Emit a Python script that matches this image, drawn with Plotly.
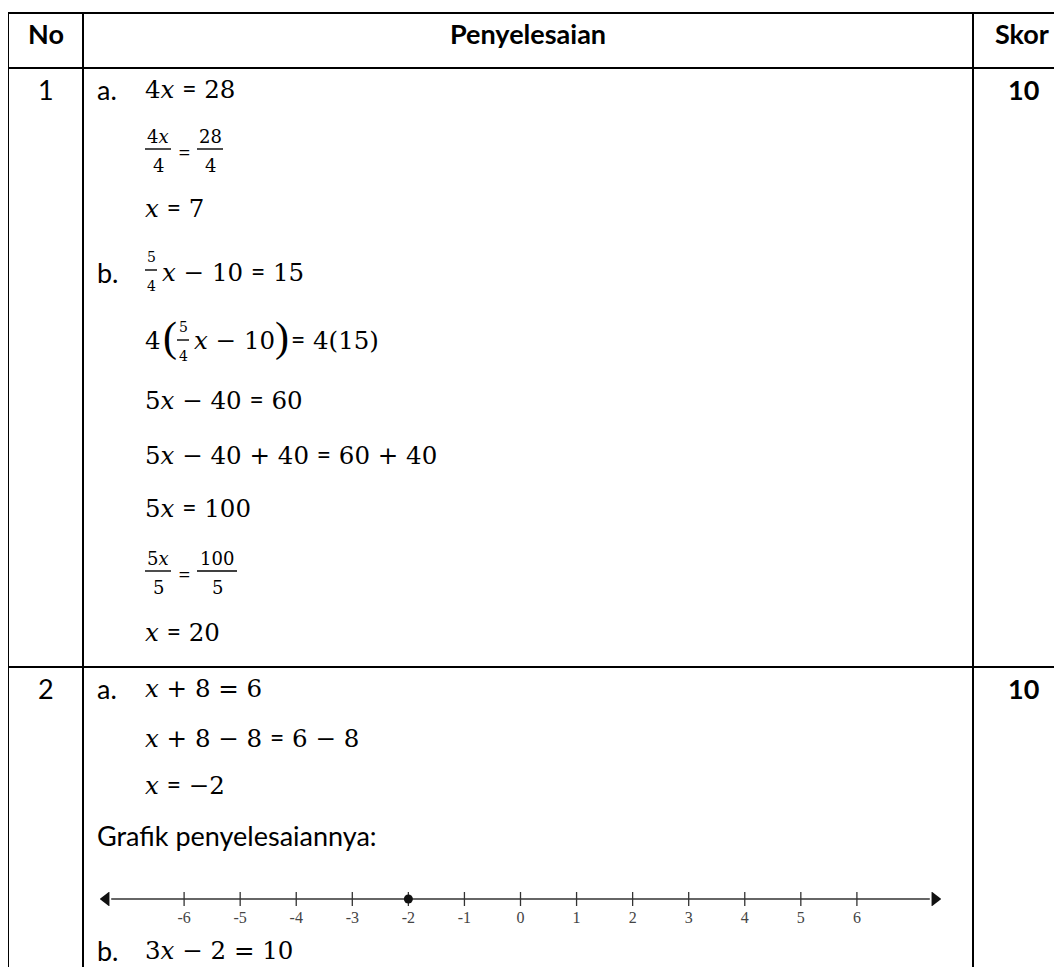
import plotly.graph_objects as go

# table content
headers = ["No", "Penyelesaian", "Skor"]
row_numbers = ["1", "2"]
scores = ["10", "10"]

EQ = "<span style='font-family:Lato'>=</span>"

# soal 1 (baris biasa, tanpa pecahan)
soal1_lines = [
    "<i>x</i> " + EQ + " 7",
    "5<i>x</i> − 40 " + EQ + " 60",
    "5<i>x</i> − 40 + 40 " + EQ + " 60 + 40",
    "5<i>x</i> " + EQ + " 100",
    "<i>x</i> " + EQ + " 20",
]
# soal 2
soal2_lines = [
    "<i>x</i> + 8 = 6",
    "<i>x</i> + 8 − 8 " + EQ + " 6 − 8",
    "<i>x</i> " + EQ + " −2",
]
grafik_label = "Grafik penyelesaiannya:"
soal2b = "3<i>x</i> − 2 = 10"

# garis bilangan
number_line_ticks = list(range(-6, 7))
number_line_labels = [str(v) for v in number_line_ticks]
solution = -2
line_ends = [-7.5, 7.5]

W, H = 1062, 967
OFF = 8  # default body margin of the page
BODY = "Lato"
MATH = "DejaVu Serif"
BODY_SIZE = 27
MATH_SIZE = 24.5
FRAC_SIZE = 18

annotations = []
shapes = []


def put(x, y, s, size=MATH_SIZE, family=MATH, anchor="left"):
    annotations.append(dict(x=x, y=y, xref="x", yref="y", text=s, showarrow=False,
                            xanchor=anchor, yanchor="middle",
                            font=dict(family=family, size=size, color="black")))


def hline(x0, x1, y, w=2):
    shapes.append(dict(type="line", xref="x", yref="y", x0=x0, x1=x1, y0=y, y1=y,
                       line=dict(color="black", width=w)))


def vline(x, y0, y1, w=2):
    shapes.append(dict(type="line", xref="x", yref="y", x0=x, x1=x, y0=y0, y1=y1,
                       line=dict(color="black", width=w)))


def frac(x0, x1, y, num, den, size=FRAC_SIZE):
    xc = (x0 + x1) / 2
    put(xc, y - 13, num, size=size, anchor="center")
    put(xc, y + 16, den, size=size, anchor="center")
    hline(x0, x1, y, w=1.4)


# table grid
hline(8, W + 10, 13)
hline(8, W + 10, 68)
hline(8, W + 10, 667)
for xv in [8, 83, 973]:
    vline(xv, 12, H + 10)

# header
put(46, 33, "<b>" + headers[0] + "</b>", size=BODY_SIZE, family=BODY, anchor="center")
put(528, 33, "<b>" + headers[1] + "</b>", size=BODY_SIZE, family=BODY, anchor="center")
put(1022, 33, "<b>" + headers[2] + "</b>", size=BODY_SIZE, family=BODY, anchor="center")

# nomor dan skor
put(46, 89, row_numbers[0], size=BODY_SIZE, family=BODY, anchor="center")
put(46, 688, row_numbers[1], size=BODY_SIZE, family=BODY, anchor="center")
put(1023, 89, "<b>" + scores[0] + "</b>", size=BODY_SIZE, family=BODY, anchor="center")
put(1023, 688, "<b>" + scores[1] + "</b>", size=BODY_SIZE, family=BODY, anchor="center")

# soal 1a
put(95, 89, "a.", size=BODY_SIZE, family=BODY)
put(143, 89, "4<i>x</i> " + EQ + " 28")
frac(145, 171, 149, "4<i>x</i>", "4")
put(184, 151, "=", size=22, family=BODY, anchor="center")
frac(197, 223, 149, "28", "4")
put(143, 208, soal1_lines[0])

# soal 1b
put(95, 272, "b.", size=BODY_SIZE, family=BODY)
frac(145, 157, 270, "5", "4", size=14)
put(160, 272, "<i>x</i> − 10 " + EQ + " 15")
put(143, 340, "4")
put(161, 337, "(", size=42, family="Liberation Serif")
frac(177, 189, 340, "5", "4", size=14)
put(192, 340, "<i>x</i> − 10")
put(273, 337, ")", size=42, family="Liberation Serif")
put(289, 340, EQ + " 4(15)")
put(143, 400, soal1_lines[1])
put(143, 455, soal1_lines[2])
put(143, 508, soal1_lines[3])
frac(145, 171, 571, "5<i>x</i>", "5")
put(184, 573, "=", size=22, family=BODY, anchor="center")
frac(197, 237, 571, "100", "5")
put(143, 632, soal1_lines[4])

# soal 2
put(95, 688, "a.", size=BODY_SIZE, family=BODY)
put(143, 688, soal2_lines[0])
put(143, 738, soal2_lines[1])
put(143, 785, soal2_lines[2])
put(95, 835, grafik_label, size=BODY_SIZE, family=BODY)
put(95, 950, "b.", size=BODY_SIZE, family=BODY)
put(143, 950, soal2b)

fig = go.Figure()
LC = "#333333"
fig.add_trace(go.Scatter(x=[line_ends[0] + 0.2, line_ends[1] - 0.2], y=[0, 0], mode="lines",
                         line=dict(color=LC, width=1.6), xaxis="x2", yaxis="y2",
                         hoverinfo="skip"))
fig.add_trace(go.Scatter(x=[line_ends[0] + 0.11], y=[0], mode="markers",
                         marker=dict(symbol="triangle-left", size=13, color="#111111"),
                         xaxis="x2", yaxis="y2", hoverinfo="skip"))
fig.add_trace(go.Scatter(x=[line_ends[1] - 0.11], y=[0], mode="markers",
                         marker=dict(symbol="triangle-right", size=13, color="#111111"),
                         xaxis="x2", yaxis="y2", hoverinfo="skip"))
fig.add_trace(go.Scatter(x=number_line_ticks, y=[0] * len(number_line_ticks), mode="markers",
                         marker=dict(symbol="line-ns-open", size=14, color=LC,
                                     line=dict(color=LC, width=1.3)),
                         xaxis="x2", yaxis="y2", hoverinfo="skip"))
fig.add_trace(go.Scatter(x=[solution], y=[0], mode="markers",
                         marker=dict(symbol="circle", size=9, color="#111111"),
                         xaxis="x2", yaxis="y2"))

# page pixel p -> plot pixel p - OFF, so shift the ranges by the body margin
fig.update_layout(
    width=W, height=H,
    margin=dict(l=0, r=0, t=0, b=0),
    paper_bgcolor="white", plot_bgcolor="white",
    showlegend=False,
    xaxis=dict(range=[OFF, W + OFF], visible=False, domain=[0, 1]),
    yaxis=dict(range=[H + OFF, OFF], visible=False, domain=[0, 1]),
    xaxis2=dict(domain=[(100 - OFF) / W, (941 - OFF) / W], range=line_ends, anchor="y2",
                showgrid=False, zeroline=False, showline=False, ticks="",
                tickvals=number_line_ticks, ticktext=number_line_labels,
                tickfont=dict(family="Liberation Serif", size=16, color="#444444")),
    yaxis2=dict(domain=[(H + OFF - 906) / H, (H + OFF - 892) / H], range=[-1, 1],
                anchor="x2", visible=False),
    annotations=annotations,
    shapes=shapes,
)

fig.write_html("out.html")
